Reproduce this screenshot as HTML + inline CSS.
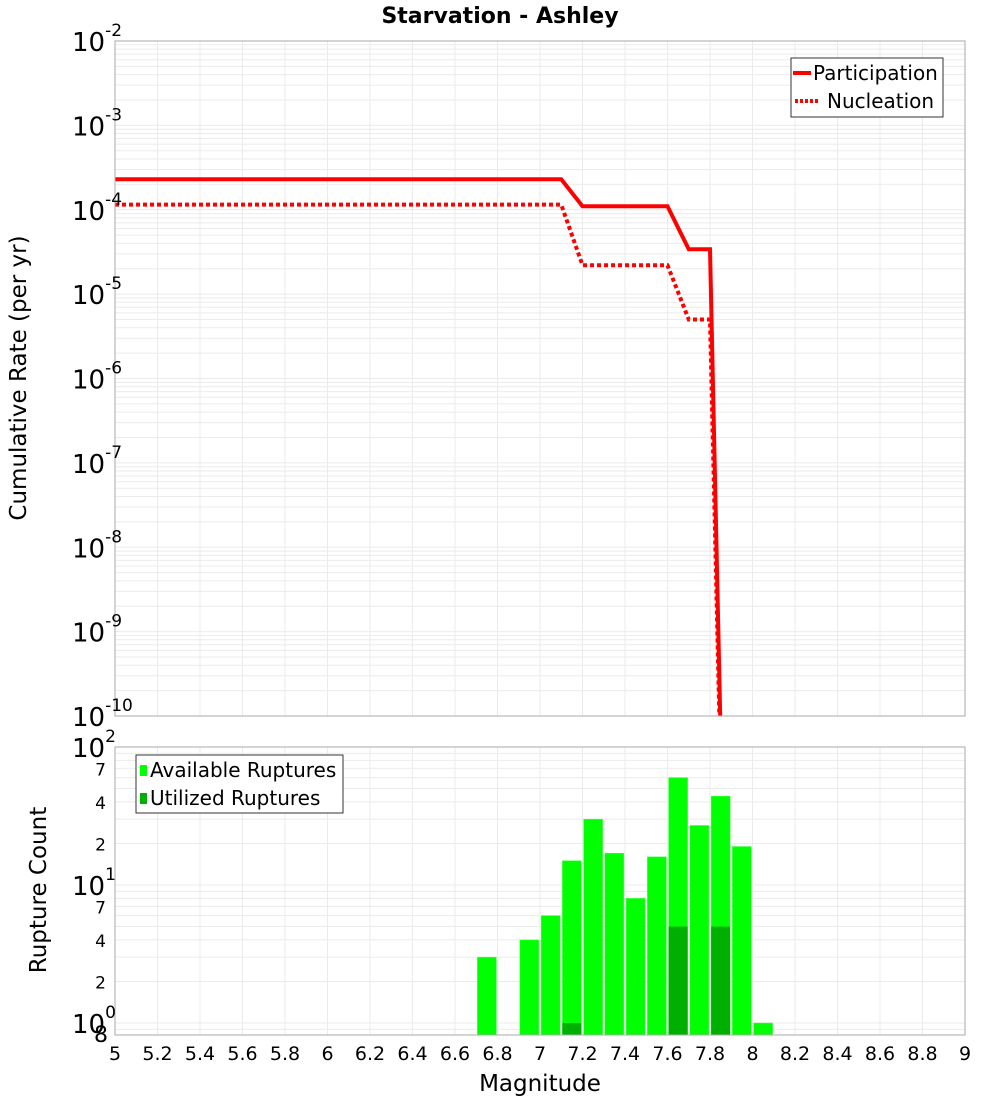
<!DOCTYPE html>
<html><head><meta charset="utf-8"><style>
html,body{margin:0;background:#fff;overflow:hidden;width:1000px;height:1100px;}
svg{display:block;font-family:"DejaVu Sans","Liberation Sans",sans-serif;}
</style></head><body>
<svg id="c" width="1000" height="1100" xmlns="http://www.w3.org/2000/svg">
<text x="500" y="23" text-anchor="middle" font-size="22" font-weight="bold">Starvation - Ashley</text>
<g id="topg"></g>
<g id="botg"></g>
<text transform="translate(26,378) rotate(-90)" text-anchor="middle" font-size="23">Cumulative Rate (per yr)</text>
<text transform="translate(46,890) rotate(-90)" text-anchor="middle" font-size="23">Rupture Count</text>
<text x="540" y="1091" text-anchor="middle" font-size="23">Magnitude</text>
</svg>
<script>
const partMags = [5.0, 7.1, 7.2, 7.6, 7.7, 7.8, 7.9];
const partRates = [2.3e-4, 2.3e-4, 1.1e-4, 1.1e-4, 3.4e-5, 3.4e-5, 1e-16];
const nuclMags = [5.0, 7.1, 7.2, 7.6, 7.7, 7.8, 7.9];
const nuclRates = [1.15e-4, 1.15e-4, 2.2e-5, 2.2e-5, 5.0e-6, 5.0e-6, 1e-16];
const binMags = [6.75, 6.95, 7.05, 7.15, 7.25, 7.35, 7.45, 7.55, 7.65, 7.75, 7.85, 7.95, 8.05];
const availCounts = [3, 4, 6, 15, 30, 17, 8, 16, 60, 27, 44, 19, 1];
const utilCounts = [0, 0, 0, 1, 0, 0, 0, 0, 5, 0, 5, 0, 0];
const xTicks = [5,5.2,5.4,5.6,5.8,6,6.2,6.4,6.6,6.8,7,7.2,7.4,7.6,7.8,8,8.2,8.4,8.6,8.8,9];
const xTickLabels = ["5","5.2","5.4","5.6","5.8","6","6.2","6.4","6.6","6.8","7","7.2","7.4","7.6","7.8","8","8.2","8.4","8.6","8.8","9"];
const topDecades = [-2,-3,-4,-5,-6,-7,-8,-9,-10];

const NS="http://www.w3.org/2000/svg";
function mk(p,t,a){const e=document.createElementNS(NS,t);for(const k in a)e.setAttribute(k,a[k]);p.appendChild(e);return e;}
const X0=115,X1=965;
const xs=m=>X0+(m-5)/4*(X1-X0);
const T0=41,T1=716;
const ty=v=>T0+(-2-Math.log10(v))/8*(T1-T0);
const B0=747,B1=1035,BD=138;
const by=v=>B0+(2-Math.log10(v))*BD;
const topG=document.getElementById('topg'),botG=document.getElementById('botg');

for(let d=-10;d<-2;d++)for(let k=1;k<10;k++){const y=ty(k*Math.pow(10,d));if(y<T0||y>T1)continue;
 const l=mk(topG,'line',{x1:X0,x2:X1,y1:y,y2:y,stroke:'#ebebeb','stroke-width':1});
 
 }
xTicks.forEach(m=>{const l=mk(topG,'line',{x1:xs(m),x2:xs(m),y1:T0,y2:T1,stroke:'#ebebeb'});
 
 
 const l2=mk(botG,'line',{x1:xs(m),x2:xs(m),y1:B0,y2:B1,stroke:'#ebebeb'});
 
 });
const defs=mk(document.getElementById('c'),'defs',{});
const cp=mk(defs,'clipPath',{id:'cl'});mk(cp,'rect',{x:X0,y:T0,width:X1-X0,height:T1-T0});
function line(ms,vs,dash,name){const pts=ms.map((m,i)=>xs(m)+','+ty(vs[i])).join(' ');
 const a={points:pts,fill:'none',stroke:'#ff0000','stroke-width':4,'clip-path':'url(#cl)','stroke-linejoin':'miter'};
 if(dash)a['stroke-dasharray']='4 3';
 const p=mk(topG,'polyline',a);
 
 }
line(partMags,partRates,false,'participation-line');
line(nuclMags,nuclRates,true,'nucleation-line');
mk(topG,'rect',{x:X0,y:T0,width:X1-X0,height:T1-T0,fill:'none',stroke:'#aaa'});
topDecades.forEach(d=>{const y=ty(Math.pow(10,d));
 const t=mk(topG,'text',{x:72,y:y+10,'font-size':26});
 
 
 t.innerHTML='10<tspan font-size="17" dy="-15">'+d+'</tspan>';});
const lg=mk(topG,'g',{});


mk(lg,'rect',{x:791,y:58,width:152,height:59,fill:'#fff',stroke:'#333'});
mk(lg,'line',{x1:793,x2:811,y1:73,y2:73,stroke:'#f00','stroke-width':4});
mk(lg,'line',{x1:795,x2:818,y1:101,y2:101,stroke:'#f00','stroke-width':4,'stroke-dasharray':'3 2'});
const lt1=mk(lg,'text',{x:813,y:80,'font-size':20});lt1.textContent='Participation';
const lt2=mk(lg,'text',{x:827,y:108,'font-size':20});lt2.textContent='Nucleation';

for(let d=-1;d<2;d++)for(let k=1;k<10;k++){const y=by(k*Math.pow(10,d));if(y<B0||y>B1)continue;
 const l=mk(botG,'line',{x1:X0,x2:X1,y1:y,y2:y,stroke:'#ebebeb'});
 
 }
const bw=19;
binMags.forEach((m,i)=>{const r=mk(botG,'rect',{x:xs(m)-bw/2,y:by(availCounts[i]),width:bw,height:B1-by(availCounts[i]),fill:'#00ff00',stroke:'#4dff4d','stroke-width':0.5});
 
 
 if(utilCounts[i]>0){const u=mk(botG,'rect',{x:xs(m)-bw/2,y:by(utilCounts[i]),width:bw,height:B1-by(utilCounts[i]),fill:'#00b000'});
 
 }});
mk(botG,'rect',{x:X0,y:B0,width:X1-X0,height:B1-B0,fill:'none',stroke:'#aaa'});
[2,1,0].forEach(d=>{const t=mk(botG,'text',{x:72,y:by(Math.pow(10,d))+10,'font-size':26});
 
 
 t.innerHTML='10<tspan font-size="17" dy="-15">'+d+'</tspan>';});
[[7,70],[4,40],[2,20],[7,7],[4,4],[2,2]].forEach(([lab,v])=>{const t=mk(botG,'text',{x:106,y:by(v)+7,'font-size':17,'text-anchor':'end'});
 
 
 t.textContent=lab;});
const t8=mk(botG,'text',{x:108,y:1042,'font-size':22,'text-anchor':'end'});


t8.textContent='8';
const bl=mk(botG,'g',{});


mk(bl,'rect',{x:136,y:755,width:207,height:58,fill:'#fff',stroke:'#333'});
mk(bl,'rect',{x:140,y:765,width:7,height:11,fill:'#00ff00'});
mk(bl,'rect',{x:140,y:793,width:7,height:11,fill:'#00b000'});
const b1=mk(bl,'text',{x:150,y:777,'font-size':20});b1.textContent='Available Ruptures';
const b2=mk(bl,'text',{x:150,y:805,'font-size':20});b2.textContent='Utilized Ruptures';
xTicks.forEach((m,i)=>{const t=mk(botG,'text',{x:xs(m),y:1060,'font-size':19,'text-anchor':'middle'});
 
 
 t.textContent=xTickLabels[i];});
</script>
</body></html>
